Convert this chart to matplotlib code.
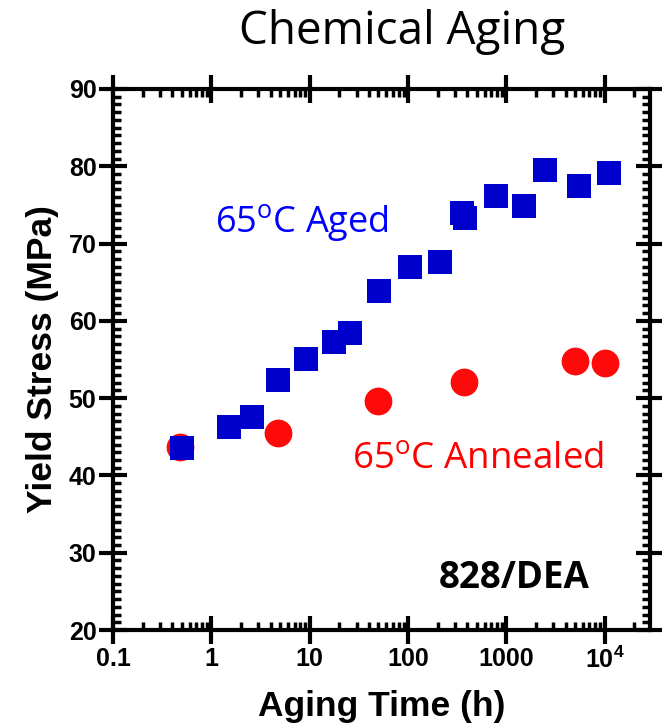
import matplotlib.pyplot as plt
import matplotlib.ticker as mticker

# aged samples (blue squares)
aged_time = [0.5, 1.5, 2.6, 4.7, 9.1, 17.5, 25.5, 51, 104, 210, 350, 380, 790, 1520, 2450, 5500, 11000]
aged_stress = [43.5, 46.3, 47.5, 52.4, 55.1, 57.3, 58.4, 63.8, 67.0, 67.6, 73.9, 73.3, 76.2, 74.8, 79.5, 77.4, 79.1]

# annealed samples (red circles)
ann_time = [0.48, 4.7, 49, 370, 5000, 10000]
ann_stress = [43.7, 45.5, 49.6, 52.1, 54.8, 54.6]

x_ticks = [0.1, 1, 10, 100, 1000, 10000]
x_ticklabels = ["0.1", "1", "10", "100", "1000", r"$\mathbf{10^4}$"]
y_ticks = [20, 30, 40, 50, 60, 70, 80, 90]

plt.rcParams["mathtext.fontset"] = "custom"
plt.rcParams["mathtext.rm"] = "Open Sans"
plt.rcParams["mathtext.bf"] = "Liberation Sans:bold"

fig = plt.figure(figsize=(6.62, 7.27), dpi=100)
ax = fig.add_axes([0.171, 0.1334, 0.811, 0.7442])

ax.plot(ann_time, ann_stress, "o", color="#ff0a0a", markersize=20, markeredgewidth=0, zorder=3)
ax.plot(aged_time, aged_stress, "s", color="#0000cc", markersize=17, markeredgewidth=0, zorder=4)

ax.set_xscale("log")
ax.set_xlim(0.1, 2.9e4)
ax.set_ylim(20, 90)
ax.set_xticks(x_ticks)
ax.set_xticklabels(x_ticklabels)
ax.xaxis.set_minor_locator(mticker.LogLocator(base=10, subs=range(2, 10), numticks=20))
ax.xaxis.set_minor_formatter(mticker.NullFormatter())
ax.set_yticks(y_ticks)
ax.yaxis.set_minor_locator(mticker.MultipleLocator(1))

for s in ax.spines.values():
    s.set_linewidth(3)
ax.tick_params(which="major", direction="inout", length=20, width=3,
               top=True, right=True, labelsize=18, pad=2)
ax.tick_params(which="minor", direction="in", length=5.5, width=2.5, top=True, right=True)
for lab in ax.get_xticklabels() + ax.get_yticklabels():
    lab.set_fontfamily("Liberation Sans")
    lab.set_fontweight("bold")

ax.set_xlabel("Aging Time (h)", fontsize=25.5, fontweight="bold", family="Liberation Sans", labelpad=12)
ax.set_ylabel("Yield Stress (MPa)", fontsize=25.5, fontweight="bold", family="Liberation Sans", labelpad=7)

fig.text(0.607, 0.956, "Chemical Aging", fontsize=33, family="Open Sans", ha="center", va="center")

ax.text(0.19, 0.754, r"65$^\mathrm{o}$C Aged", transform=ax.transAxes, fontsize=26,
        family="Open Sans", color="#0000ff", ha="left", va="center")
ax.text(0.445, 0.314, r"65$^\mathrm{o}$C Annealed", transform=ax.transAxes, fontsize=26.5,
        family="Open Sans", color="#ff0000", ha="left", va="center")
ax.text(0.888, 0.096, "828/DEA", transform=ax.transAxes, fontsize=26.5,
        family="Open Sans", fontweight="bold", color="black", ha="right", va="center")

plt.savefig("out.png", dpi=100)
